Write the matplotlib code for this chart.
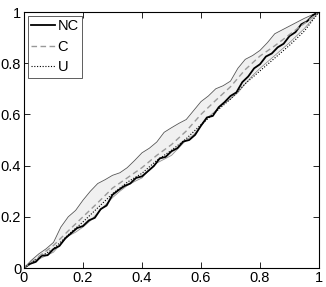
import matplotlib
matplotlib.use("Agg")
import matplotlib.pyplot as plt
from matplotlib.ticker import FuncFormatter

plt.rcParams['font.family'] = ['Liberation Sans', 'DejaVu Sans']

# NC curve (solid black)
x_nc = [0, .02, .04, .06, .08, .10, .12, .14, .16, .18, .20, .22, .24, .26, .28,
        .30, .32, .34, .36, .38, .40, .42, .44, .46, .48, .50, .52, .54, .56, .58,
        .60, .62, .64, .66, .68, .70, .72, .74, .76, .78, .80, .82, .84, .86, .88,
        .90, .92, .94, .96, .98, 1.0]
y_nc = [0, .016, .024, .048, .050, .074, .086, .116, .136, .156, .164, .186, .196, .230, .244,
        .286, .304, .320, .330, .352, .358, .378, .398, .428, .434, .456, .468, .494, .500, .520,
        .556, .588, .594, .628, .648, .672, .686, .726, .748, .780, .796, .826, .838, .862, .876,
        .906, .921, .952, .964, .988, 1.0]

# C curve (dashed gray)
x_c = [0, .05, .10, .15, .20, .25, .30, .35, .40, .45, .50, .55, .60, .65, .70,
       .75, .80, .85, .90, .95, 1.0]
y_c = [0, .045, .088, .145, .200, .255, .312, .352, .392, .440, .482, .535, .600, .655, .708,
       .775, .828, .868, .912, .955, 1.0]

# U curve (dotted black)
x_u = [0, .05, .10, .15, .20, .25, .30, .35, .40, .45, .50, .55, .60, .65, .70,
       .75, .80, .85, .90, .95, 1.0]
y_u = [0, .040, .075, .130, .180, .235, .290, .335, .370, .420, .460, .505, .560, .610, .660,
       .720, .770, .820, .870, .925, 1.0]

# band bounds
x_band = [0, .025, .05, .075, .10, .125, .15, .175, .20, .225, .25, .275, .30, .325, .35,
          .375, .40, .425, .45, .475, .50, .525, .55, .575, .60, .625, .65, .675, .70, .725,
          .75, .775, .80, .825, .85, .875, .90, .925, .95, .975, 1.0]
band_hi = [0, .030, .055, .075, .100, .160, .200, .225, .265, .300, .330, .345, .362, .372, .392,
           .420, .450, .468, .492, .530, .548, .565, .580, .615, .650, .672, .700, .712, .730, .780,
           .815, .830, .850, .880, .915, .930, .945, .960, .975, .988, 1.0]
band_lo = [0, .018, .035, .048, .062, .095, .125, .140, .160, .185, .215, .245, .275, .300, .322,
           .338, .352, .385, .410, .425, .440, .470, .500, .520, .555, .590, .615, .640, .660, .685,
           .720, .752, .780, .805, .830, .855, .880, .908, .935, .968, 1.0]

fig = plt.figure(figsize=(3.26, 2.87), dpi=100)
ax = fig.add_axes([24/326, 19/287, 295/326, 256/287])

ax.fill_between(x_band, band_lo, band_hi, color="#f0f0f0", lw=0)
ax.plot(x_band, band_hi, color="#555555", lw=0.6)
ax.plot(x_band, band_lo, color="#888888", lw=0.5)

ax.plot(x_nc, y_nc, color="black", lw=1.3, label="NC")
ax.plot(x_c, y_c, color="#999999", lw=1.0, ls=(0, (4, 2.5)), label="C")
ax.plot(x_u, y_u, color="black", lw=0.8, ls=(0, (1, 1.5)), label="U")

ax.set_xlim(0, 1)
ax.set_ylim(0, 1)
ticks = [0, .2, .4, .6, .8, 1]
ax.set_xticks(ticks)
ax.set_yticks(ticks)
fmt = FuncFormatter(lambda v, p: "%g" % v)
ax.xaxis.set_major_formatter(fmt)
ax.yaxis.set_major_formatter(fmt)
ax.tick_params(direction="in", length=4, width=0.6, top=True, right=True,
               labelsize=10.5, pad=2)
for s in ax.spines.values():
    s.set_linewidth(0.8)

leg = ax.legend(loc="upper left", fontsize=10.5, handlelength=1.6, handletextpad=0.2,
                borderpad=0.25, labelspacing=0.45, borderaxespad=0.25, fancybox=False,
                framealpha=1, edgecolor="#444444")
leg.get_frame().set_linewidth(0.6)

fig.savefig("out.png", dpi=100)
